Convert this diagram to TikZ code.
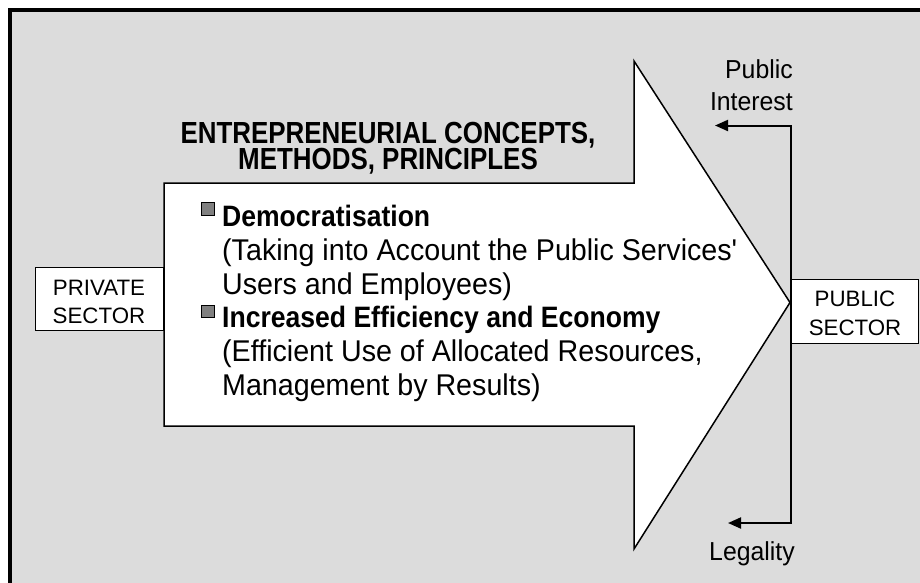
\documentclass[tikz,border=0pt]{standalone}
\usepackage{fontspec}
\setmainfont{Liberation Sans}
\newfontfamily\titlefont{Liberation Sans}[FakeStretch=0.85]
\newfontfamily\boldbody{Liberation Sans}[FakeStretch=0.90]
\newfontfamily\condreg{Liberation Sans}[FakeStretch=0.955]
\usetikzlibrary{arrows.meta}
\definecolor{bggray}{RGB}{220,220,220}
\definecolor{bulletgray}{RGB}{128,128,128}
\begin{document}
\begin{tikzpicture}[x=1pt,y=-1pt,
  sectorbox/.style={draw=black, line width=1pt, fill=white, inner sep=0pt},
  sectortxt/.style={inner sep=0pt, anchor=base, font=\fontsize{22.3}{25}\selectfont},
  titletxt/.style={inner sep=0pt, anchor=base, text height=22pt, text depth=0pt, font=\titlefont\bfseries\fontsize{30.5}{30}\selectfont},
  headtxt/.style={inner sep=0pt, anchor=base west, font=\boldbody\bfseries\fontsize{29.5}{30}\selectfont},
  bodytxt/.style={inner sep=0pt, anchor=base west, font=\condreg\fontsize{30}{30}\selectfont},
  sidetxt/.style={inner sep=0pt, anchor=base east, font=\condreg\fontsize{26}{28}\selectfont},
  bulletsq/.style={draw=black, line width=0.8pt, fill=bulletgray, minimum size=12.5pt, inner sep=0pt},
  fbline/.style={line width=2pt, {Triangle[length=13pt,width=11pt]}-{Triangle[length=13pt,width=11pt]}}
]
\useasboundingbox (0,0) rectangle (920,582);
\clip (0,0) rectangle (920,582);
\fill[white] (0,0) rectangle (920,582);
\draw[line width=4pt, fill=bggray] (10,10) rectangle (940,600);

% big arrow
\draw[line width=1.5pt, fill=white, line join=miter]
  (164,183) -- (634,183) -- (634,61) -- (790,302.5) -- (634,549) -- (634,426) -- (164,426) -- cycle;

% sector boxes
\node[sectorbox, minimum width=128pt, minimum height=63pt] (priv) at (99,298.5) {};
\node[sectortxt] (privA) at (99,295) {PRIVATE};
\node[sectortxt] (privB) at (99,323.3) {SECTOR};

\node[sectorbox, minimum width=127pt, minimum height=64pt] (pub) at (854.5,311) {};
\node[sectortxt] (pubA) at (855,306) {PUBLIC};
\node[sectortxt] (pubB) at (855,335) {SECTOR};

% title
\node[titletxt] (t1) at (388,143) {ENTREPRENEURIAL CONCEPTS,};
\node[titletxt] (t2) at (388,169) {METHODS, PRINCIPLES};

% bullets
\node[bulletsq] (b1) at (208,209) {};
\node[headtxt] (h1) at (222,226) {Democratisation};
\node[bodytxt] (l1) at (222,260) {(Taking into Account the Public Services\textquotesingle};
\node[bodytxt] (l2) at (222,294) {Users and Employees)};
\node[bulletsq] (b2) at (208,311.5) {};
\node[headtxt] (h2) at (222,327) {Increased Efficiency and Economy};
\node[bodytxt] (l3) at (222,361) {(Efficient Use of Allocated Resources,};
\node[bodytxt] (l4) at (222,395) {Management by Results)};

% feedback
\coordinate (pint) at (715,125.5);
\coordinate (fbtop) at (791,125.5);
\coordinate (fbbot) at (791,523);
\coordinate (legal) at (728,523);
\draw[fbline] (pint) -- (fbtop) -- (fbbot) -- (legal);

\node[sidetxt] (s1) at (793,78) {Public};
\node[sidetxt] (s2) at (793,110) {Interest};
\node[sidetxt] (s3) at (795,560) {Legality};
\end{tikzpicture}
\end{document}
